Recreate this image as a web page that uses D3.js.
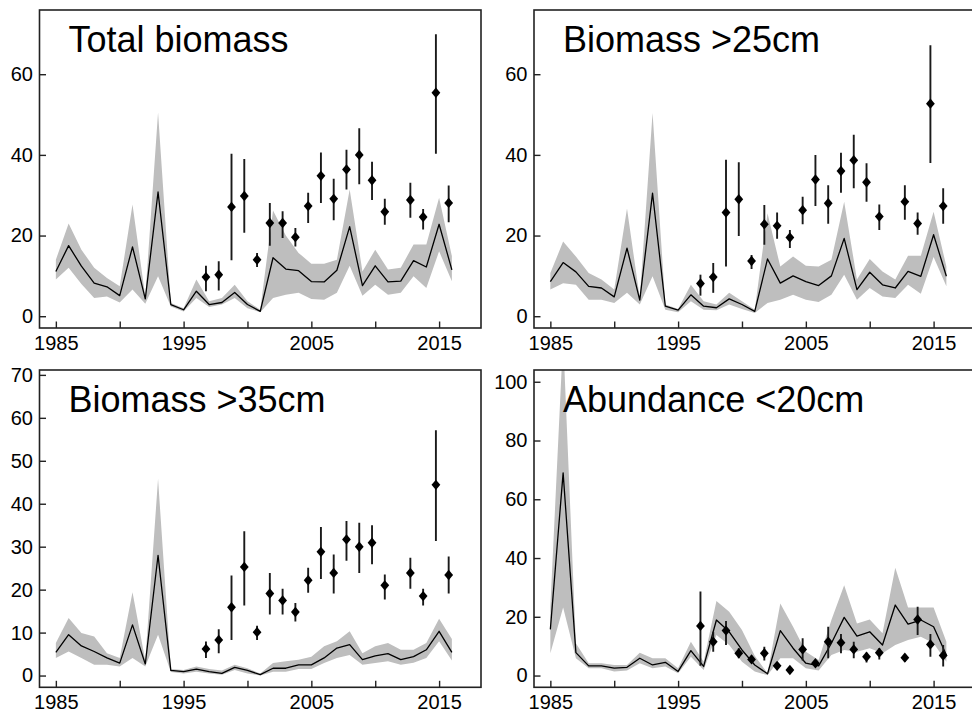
<!DOCTYPE html>
<html>
<head>
<meta charset="utf-8">
<script src="https://cdn.jsdelivr.net/npm/d3@7/dist/d3.min.js"></script>
<style>
  html, body { margin: 0; padding: 0; background: #fff; }
  svg { display: block; }
  text { font-family: "Liberation Sans", Arial, Helvetica, sans-serif; fill: #000; }
</style>
</head>
<body>
<svg id="chart" width="972" height="716"></svg>
<script>
// Assessment years (model estimate with confidence band)
const years = [1985, 1986, 1987, 1988, 1989, 1990, 1991, 1992, 1993, 1994, 1995, 1996,
  1997, 1998, 1999, 2000, 2001, 2002, 2003, 2004, 2005, 2006, 2007, 2008,
  2009, 2010, 2011, 2012, 2013, 2014, 2015, 2016];
// Survey years (index with error bars); no survey in 2012
const obsYears = [1997, 1998, 1999, 2000, 2001, 2002, 2003, 2004, 2005, 2006,
  2007, 2008, 2009, 2010, 2011, 2013, 2014, 2015, 2016];

// Total biomass
const totalEst = [11.1, 17.5, 12.4, 8.2, 7.3, 5.1, 17.2, 4.3, 30.8, 2.9, 1.6, 6.2, 2.9, 3.4, 5.9, 2.9,
  1.2, 14.5, 11.7, 11.3, 8.6, 8.5, 11.4, 22.2, 7.6, 12.5, 8.5, 8.7, 13.8, 12.2, 22.8, 11.5];
const totalLo = [9.1, 12.0, 8.0, 4.5, 4.9, 3.4, 6.6, 3.1, 9.9, 2.4, 1.2, 4.5, 2.3, 2.9, 4.5, 2.0,
  1.0, 4.5, 5.3, 5.8, 4.3, 4.1, 5.8, 12.5, 5.1, 7.8, 5.3, 5.8, 9.9, 7.0, 16.1, 8.7];
const totalHi = [14.0, 23.0, 16.5, 12.0, 9.5, 7.4, 27.7, 4.9, 50.5, 3.3, 2.0, 9.1, 3.7, 4.5, 7.8, 3.7,
  1.6, 26.2, 20.0, 15.7, 13.0, 13.0, 14.0, 31.4, 11.1, 16.5, 11.6, 12.0, 17.8, 17.8, 29.4, 14.9];
const totalObs = [9.7, 10.3, 27.1, 29.8, 14.0, 23.1, 23.1, 19.6, 27.3, 34.8, 29.1, 36.4, 40.0, 33.7,
  25.9, 28.8, 24.6, 55.4, 28.1];
const totalObsLo = [6.2, 6.4, 13.9, 20.7, 12.2, 17.5, 19.4, 17.3, 23.1, 28.1, 23.8, 31.4, 32.7, 28.8,
  22.7, 24.4, 21.5, 40.3, 23.3];
const totalObsHi = [12.5, 13.6, 40.3, 39.0, 15.7, 28.1, 26.0, 21.9, 30.6, 40.6, 34.1, 41.3, 46.6, 38.3,
  29.1, 33.1, 26.6, 69.9, 32.4];

// Biomass > 25 cm
const b25Est = [8.6, 13.3, 11.0, 7.4, 7.0, 4.8, 16.9, 4.0, 30.5, 2.5, 1.5, 5.3, 2.5, 2.1, 4.3, 2.9,
  1.2, 14.2, 8.2, 10.0, 8.6, 7.6, 10.0, 19.3, 6.6, 10.9, 7.8, 7.0, 11.1, 9.9, 20.2, 9.9];
const b25Lo = [6.6, 8.2, 7.8, 4.1, 4.1, 3.3, 5.8, 2.9, 9.9, 1.6, 1.0, 3.7, 1.6, 1.5, 2.9, 1.8,
  0.8, 3.3, 4.1, 5.3, 4.1, 3.5, 5.3, 10.3, 4.1, 7.0, 4.9, 4.5, 7.8, 5.6, 14.7, 7.4];
const b25Hi = [10.7, 18.5, 14.8, 10.7, 9.1, 6.6, 26.7, 4.5, 50.4, 2.9, 1.8, 7.8, 3.7, 2.9, 5.8, 3.7,
  1.6, 25.5, 12.3, 14.8, 12.5, 12.3, 14.0, 28.4, 9.1, 14.2, 11.1, 9.1, 15.0, 15.0, 25.9, 12.3];
const b25Obs = [8.1, 9.7, 25.7, 29.0, 13.7, 22.8, 22.4, 19.5, 26.3, 33.9, 28.0, 36.0, 38.7, 33.2,
  24.7, 28.4, 23.0, 52.7, 27.3];
const b25ObsLo = [5.1, 5.8, 12.3, 19.9, 11.7, 17.7, 19.2, 16.9, 22.8, 27.3, 22.9, 30.6, 31.7, 28.4,
  21.4, 23.9, 20.2, 38.0, 22.9];
const b25ObsHi = [10.3, 13.2, 38.8, 38.2, 15.2, 27.6, 25.7, 21.4, 29.6, 40.0, 32.5, 40.5, 45.0, 37.9,
  27.7, 32.5, 25.7, 67.2, 31.7];

// Biomass > 35 cm
const b35Est = [5.4, 9.5, 6.9, 5.6, 4.1, 2.9, 11.8, 2.7, 28.0, 1.2, 0.9, 1.5, 0.9, 0.5, 1.9, 1.2,
  0.2, 1.7, 1.7, 2.5, 2.5, 4.1, 6.4, 7.2, 3.7, 4.6, 5.1, 3.7, 4.4, 6.0, 10.3, 5.4];
const b35Lo = [4.1, 5.6, 4.1, 2.5, 2.5, 2.1, 4.1, 2.1, 9.5, 0.8, 0.5, 0.9, 0.5, 0.2, 1.3, 0.5,
  0.0, 0.9, 0.9, 1.5, 1.5, 2.9, 4.1, 4.8, 2.5, 2.9, 3.3, 2.5, 3.0, 4.1, 8.0, 3.5];
const b35Hi = [7.6, 13.4, 9.9, 9.1, 5.2, 4.1, 19.4, 3.5, 45.8, 1.5, 1.3, 2.1, 1.5, 1.2, 2.5, 1.7,
  0.5, 2.9, 3.3, 3.7, 4.4, 6.8, 8.0, 10.3, 5.2, 6.8, 7.6, 6.0, 6.0, 7.6, 13.2, 8.5];
const b35Obs = [6.2, 8.3, 15.9, 25.3, 10.1, 19.1, 17.5, 14.8, 22.2, 28.8, 23.9, 31.7, 30.0, 30.9,
  21.0, 23.9, 18.5, 44.4, 23.4];
const b35ObsLo = [4.1, 5.2, 8.3, 16.3, 8.3, 14.2, 14.2, 12.6, 19.3, 22.5, 19.1, 26.7, 23.9, 25.9,
  17.7, 20.2, 16.3, 31.3, 19.1];
const b35ObsHi = [7.9, 10.8, 23.3, 33.6, 11.6, 23.9, 20.2, 16.9, 25.1, 34.6, 28.2, 36.0, 35.6, 35.0,
  23.5, 27.4, 20.2, 57.1, 27.7];

// Abundance < 20 cm
const a20Est = [15.7, 69.0, 7.8, 3.3, 3.3, 2.5, 2.8, 5.9, 3.6, 4.5, 1.4, 8.5, 3.1, 18.9, 14.9, 8.7,
  3.6, 0.6, 15.3, 9.3, 4.2, 3.3, 11.0, 19.8, 13.4, 14.9, 10.4, 24.0, 17.5, 18.9, 16.6, 7.0];
const a20Lo = [7.6, 23.2, 5.9, 2.5, 2.5, 1.4, 1.7, 4.2, 2.5, 3.1, 0.8, 6.4, 1.9, 13.8, 10.4, 4.7,
  1.4, 0.1, 5.9, 5.9, 2.5, 1.7, 7.0, 8.7, 8.1, 9.3, 7.6, 10.4, 12.1, 13.2, 11.0, 4.7];
const a20Hi = [23.4, 115.0, 11.0, 4.2, 4.2, 3.6, 3.6, 7.8, 5.9, 5.9, 2.5, 11.5, 4.7, 25.4, 21.7, 15.5,
  6.7, 0.8, 24.5, 16.6, 8.1, 5.3, 18.9, 30.7, 17.7, 19.1, 14.4, 36.7, 23.2, 23.2, 23.2, 11.5];
const a20Obs = [16.9, 11.5, 15.3, 7.6, 5.5, 7.6, 3.3, 1.9, 8.9, 4.2, 11.5, 11.2, 8.9, 6.4, 7.8,
  6.1, 19.1, 10.6, 6.8];
const a20ObsLo = [3.3, 8.1, 10.4, 5.9, 4.4, 5.1, 2.5, 1.0, 5.1, 3.1, 5.9, 7.6, 5.9, 4.4, 5.5,
  4.7, 13.8, 6.4, 3.1];
const a20ObsHi = [28.6, 14.9, 18.6, 9.3, 6.7, 9.8, 4.2, 2.8, 12.7, 5.3, 16.6, 14.1, 11.5, 7.8, 9.3,
  7.0, 23.4, 14.1, 10.4];

// Axis ticks
const xTicks = [1985, 1990, 1995, 2000, 2005, 2010, 2015];
const xTickLabels = [1985, 1995, 2005, 2015];
const yTicksBiomass = [0, 20, 40, 60];
const yTicks35 = [0, 10, 20, 30, 40, 50, 60, 70];
const yTicksAbund = [0, 20, 40, 60, 80, 100];

const panelTitles = ["Total biomass", "Biomass >25cm", "Biomass >35cm", "Abundance <20cm"];

// Survey index is plotted slightly before the assessment year
const surveyShift = -0.25;

const panels = [
  { title: panelTitles[0], est: totalEst, lo: totalLo, hi: totalHi, obs: totalObs, obsLo: totalObsLo, obsHi: totalObsHi, ylim: [0, 73], yTicks: yTicksBiomass, col: 0, row: 0 },
  { title: panelTitles[1], est: b25Est, lo: b25Lo, hi: b25Hi, obs: b25Obs, obsLo: b25ObsLo, obsHi: b25ObsHi, ylim: [0, 73], yTicks: yTicksBiomass, col: 1, row: 0 },
  { title: panelTitles[2], est: b35Est, lo: b35Lo, hi: b35Hi, obs: b35Obs, obsLo: b35ObsLo, obsHi: b35ObsHi, ylim: [0, 68.4], yTicks: yTicks35, col: 0, row: 1 },
  { title: panelTitles[3], est: a20Est, lo: a20Lo, hi: a20Hi, obs: a20Obs, obsLo: a20ObsLo, obsHi: a20ObsHi, ylim: [0, 100], yTicks: yTicksAbund, col: 1, row: 1 }
];

// Plot regions (columns / rows)
const colX = [[39.5, 481], [534, 975.5]];
const rowY = [[10, 328], [370, 687.3]];

// Axis limits padded by 4% on each side
const pad = ([a, b]) => { const d = (b - a) * 0.04; return [a - d, b + d]; };
const xlim = [1985, 2017];

const svg = d3.select("#chart");
const defs = svg.append("defs");

const diamond = (hw, hh) => `M0,${-hh}L${hw},0L0,${hh}L${-hw},0Z`;

panels.forEach((p, i) => {
  const [x0, x1] = colX[p.col];
  const [y0, y1] = rowY[p.row];
  const x = d3.scaleLinear().domain(pad(xlim)).range([x0, x1]);
  const y = d3.scaleLinear().domain(pad(p.ylim)).range([y1, y0]);

  const clipId = "clip" + i;
  defs.append("clipPath").attr("id", clipId)
    .append("rect").attr("x", x0).attr("y", y0).attr("width", x1 - x0).attr("height", y1 - y0);

  const g = svg.append("g");
  const plot = g.append("g").attr("clip-path", `url(#${clipId})`);

  const est = years.map((yr, k) => ({ yr, est: p.est[k], lo: p.lo[k], hi: p.hi[k] }));

  // confidence band
  plot.append("path").datum(est)
    .attr("fill", "#bebebe")
    .attr("stroke", "none")
    .attr("d", d3.area().x(d => x(d.yr)).y0(d => y(d.lo)).y1(d => y(d.hi)));

  // model estimate
  plot.append("path").datum(est)
    .attr("fill", "none")
    .attr("stroke", "#000")
    .attr("stroke-width", 1.3)
    .attr("stroke-linejoin", "round")
    .attr("d", d3.line().x(d => x(d.yr)).y(d => y(d.est)));

  const obs = obsYears.map((yr, k) => ({ yr: yr + surveyShift, v: p.obs[k], lo: p.obsLo[k], hi: p.obsHi[k] }));

  // survey error bars
  plot.selectAll("line.err").data(obs).join("line")
    .attr("class", "err")
    .attr("x1", d => x(d.yr)).attr("x2", d => x(d.yr))
    .attr("y1", d => y(d.lo)).attr("y2", d => y(d.hi))
    .attr("stroke", "#1a1a1a")
    .attr("stroke-width", 1.9);

  // survey points
  plot.selectAll("path.pt").data(obs).join("path")
    .attr("class", "pt")
    .attr("transform", d => `translate(${x(d.yr)},${y(d.v)})`)
    .attr("d", diamond(4.4, 5.2))
    .attr("fill", "#000");

  // axes with inward ticks
  const xAxis = d3.axisBottom(x).tickValues(xTicks).tickSize(-6.5).tickPadding(8)
    .tickFormat(d => xTickLabels.includes(d) ? d : "");
  const gx = g.append("g").attr("transform", `translate(0,${y1})`).call(xAxis);
  const yAxis = d3.axisLeft(y).tickValues(p.yTicks).tickSize(-6.5).tickPadding(6.5).tickFormat(d3.format("d"));
  const gy = g.append("g").attr("transform", `translate(${x0},0)`).call(yAxis);
  [gx, gy].forEach(a => {
    a.select(".domain").remove();
    a.selectAll(".tick line").attr("stroke", "#222").attr("stroke-width", 1.4);
    a.selectAll(".tick text").attr("font-size", 20).attr("fill", "#000")
      .style("font-family", '"Liberation Sans", Arial, sans-serif');
  });

  // frame
  g.append("rect")
    .attr("x", x0).attr("y", y0).attr("width", x1 - x0).attr("height", y1 - y0)
    .attr("fill", "none").attr("stroke", "#222").attr("stroke-width", 1.6);

  // panel title
  g.append("text")
    .attr("x", x0 + 29).attr("y", y0 + 42)
    .attr("font-size", 36)
    .text(p.title);
});
</script>
</body>
</html>
